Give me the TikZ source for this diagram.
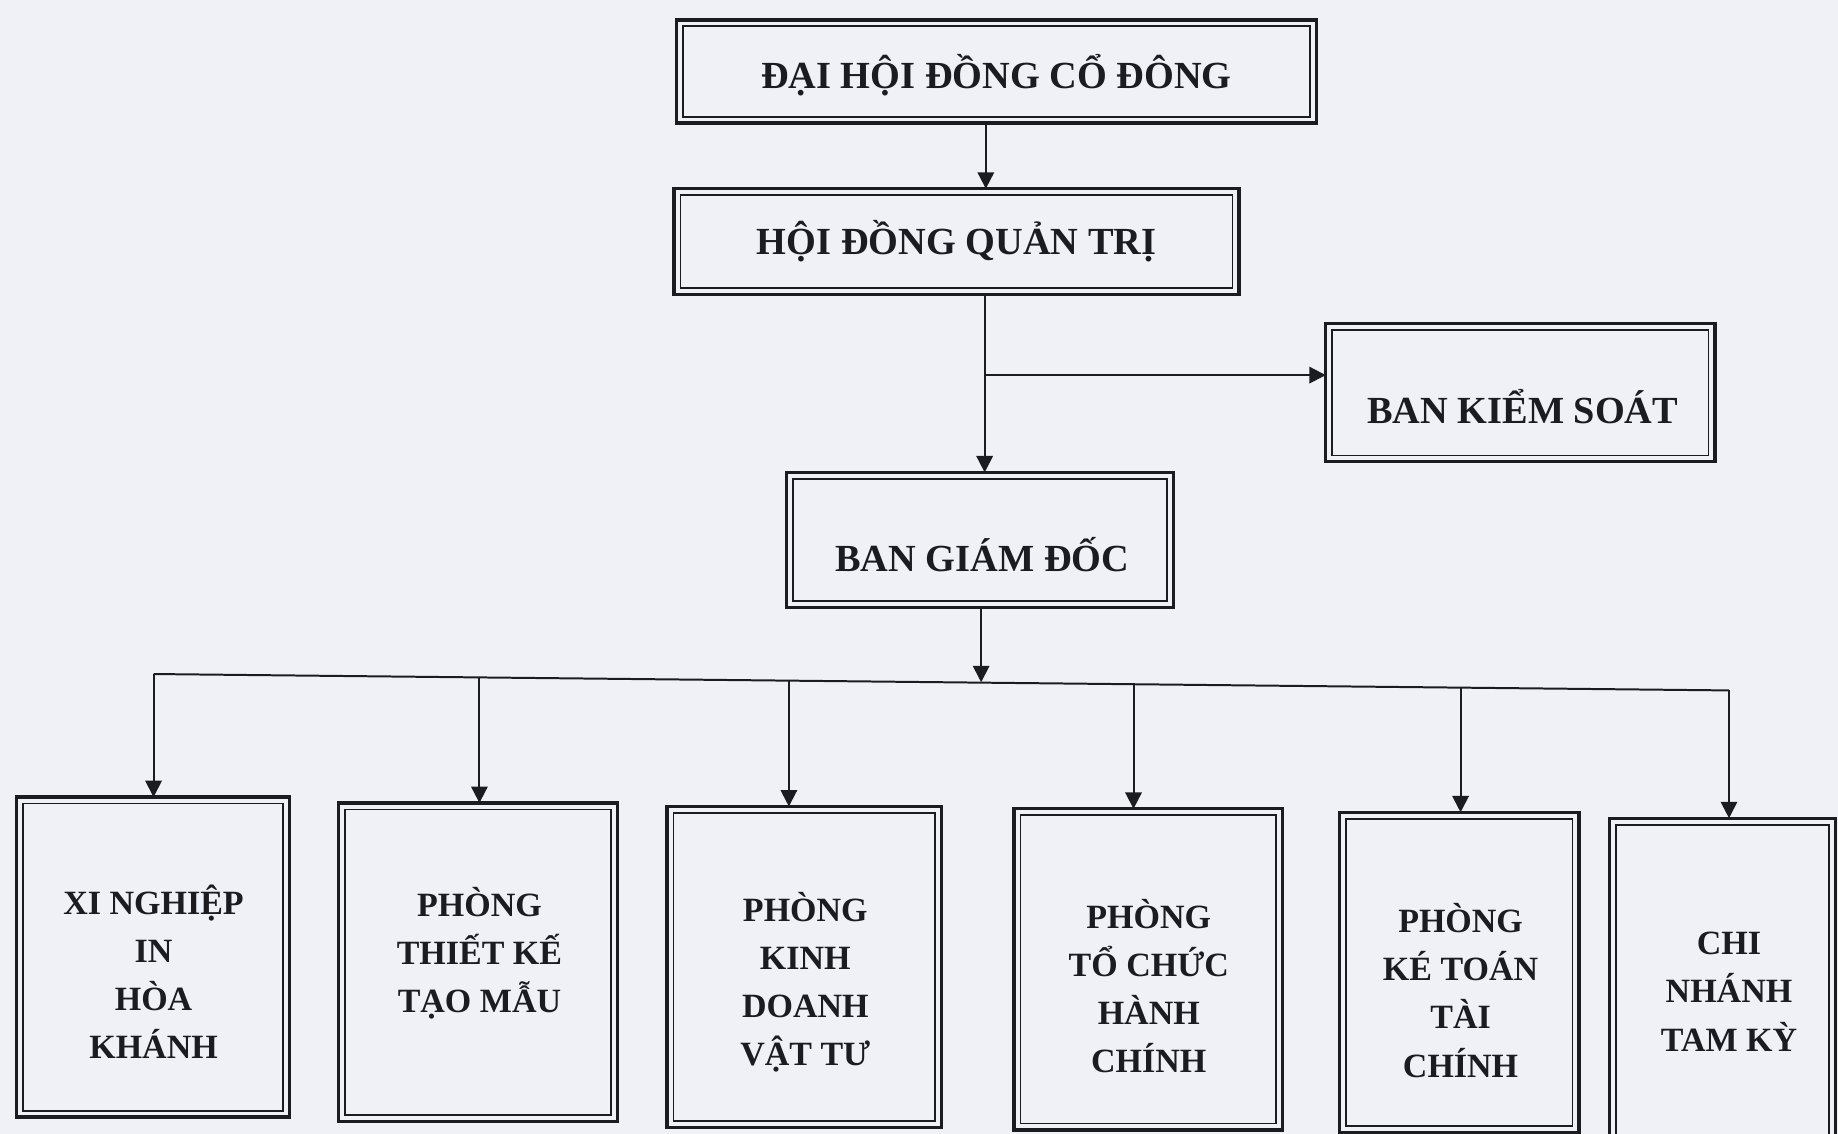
\documentclass[tikz,border=0pt]{standalone}
\usepackage{fontspec}
\setmainfont{Liberation Serif}
\usetikzlibrary{arrows.meta}
\definecolor{paper}{RGB}{239,241,247}
\definecolor{ink}{RGB}{28,28,32}
\tikzset{
  bx/.style={draw=ink, line width=2.8pt, outer sep=0pt, inner sep=0pt, fill=paper},
  inr/.style={draw=ink, line width=1.5pt},
  lbl/.style={text=ink, align=center, inner sep=0pt, font=\fontsize{32.7}{41}\selectfont\bfseries},
  lbs/.style={text=ink, align=center, inner sep=0pt, font=\fontsize{29}{41}\selectfont\bfseries},
  con/.style={draw=ink, line width=1.7pt},
  arr/.style={con, -{Triangle[length=14pt,width=14pt]}}
}
\newcommand{\innerbox}[1]{\draw[inr] ([shift={(5.5pt,-5.5pt)}]#1.north west) rectangle ([shift={(-5.5pt,5.5pt)}]#1.south east);}
\begin{document}
\begin{tikzpicture}[x=1pt,y=-1pt]
\useasboundingbox (0,0) rectangle (1568,967);
\fill[paper] (0,0) rectangle (1568,967);
\clip (0,0) rectangle (1568,967);
% top boxes
\node[bx, minimum width=546, minimum height=88] (b1) at (850,61) {};
\node[bx, minimum width=482, minimum height=90] (b2) at (816,206) {};
\node[bx, minimum width=332, minimum height=118] (bks) at (1297,335) {};
\node[bx, minimum width=330, minimum height=115] (bgd) at (836,460.5) {};
% bottom boxes
\node[bx, minimum width=233, minimum height=273] (c1) at (130.5,816.5) {};
\node[bx, minimum width=238, minimum height=272] (c2) at (408,821) {};
\node[bx, minimum width=234, minimum height=274] (c3) at (686,825) {};
\node[bx, minimum width=229, minimum height=274] (c4) at (979.5,827) {};
\node[bx, minimum width=204, minimum height=273] (c5) at (1245,829.5) {};
\node[bx, minimum width=193, minimum height=280] (c6) at (1469.5,838) {};
\foreach \n in {b1,b2,bks,bgd,c1,c2,c3,c4,c5,c6} {\innerbox{\n}}
% labels
\node[lbl] (t1) at (850,64) {ĐẠI HỘI ĐỒNG CỔ ĐÔNG};
\node[lbl] (t2) at (816,206) {HỘI ĐỒNG QUẢN TRỊ};
\node[lbl] (t3) at (1299,347) {BAN KIỂM SOÁT};
\node[lbl] (t4) at (838,473) {BAN GIÁM ĐỐC};
\node[lbs] (s1) at (131,829) {XI NGHIỆP\\IN\\HÒA\\KHÁNH};
\node[lbs] (s2) at (409,813) {PHÒNG\\THIẾT KẾ\\TẠO MẪU};
\node[lbs] (s3) at (687,838) {PHÒNG\\KINH\\DOANH\\VẬT TƯ};
\node[lbs] (s4) at (980,841) {PHÒNG\\TỔ CHỨC\\HÀNH\\CHÍNH};
\node[lbs] (s5) at (1246,845) {PHÒNG\\KÉ TOÁN\\TÀI\\CHÍNH};
\node[lbs] (s6) at (1475,846) {CHI\\NHÁNH\\TAM KỲ};
% connectors
\coordinate (a1) at (841,105);
\draw[arr] (a1) -- (a1 |- b2.north);
\coordinate (a2) at (840,251);
\coordinate (ks) at (840,320);
\draw[arr] (a2) -- (a2 |- bgd.north);
\draw[arr] (ks) -- (ks -| bks.west);
% bus
\coordinate (busL) at (131,575);
\coordinate (busR) at (1475,589);
\coordinate (g) at (837,518);
\coordinate (gb) at (837,582);
\draw[con] (busL) -- (busR);
\draw[arr] (g) -- (gb);
\coordinate (d1) at (131,575);
\coordinate (d2) at (409,578);
\coordinate (d3) at (673,580.5);
\coordinate (d4) at (967,583.5);
\coordinate (d5) at (1246,586.5);
\coordinate (d6) at (1475,589);
\draw[arr] (d1) -- (d1 |- c1.north);
\draw[arr] (d2) -- (d2 |- c2.north);
\draw[arr] (d3) -- (d3 |- c3.north);
\draw[arr] (d4) -- (d4 |- c4.north);
\draw[arr] (d5) -- (d5 |- c5.north);
\draw[arr] (d6) -- (d6 |- c6.north);
\end{tikzpicture}
\end{document}
